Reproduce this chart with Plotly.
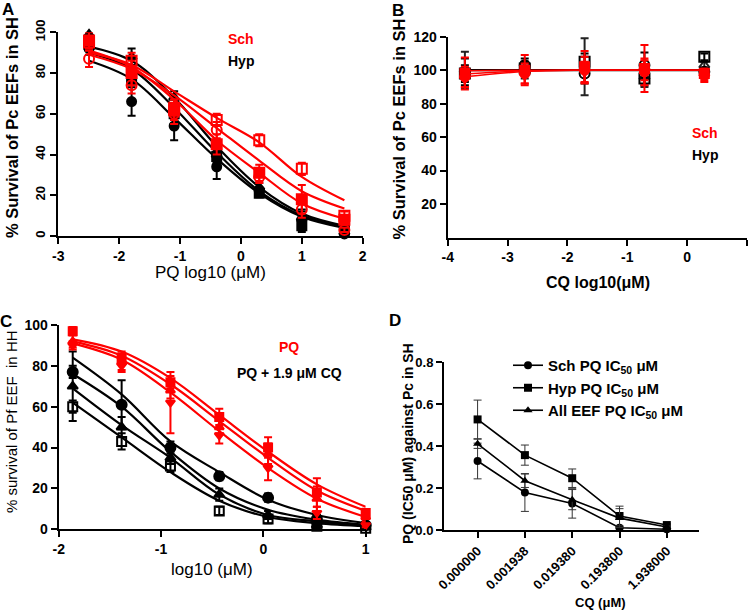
import plotly.graph_objects as go

# ---------------- DATA ----------------
# Panel A: PQ dose response, Pc EEFs in SH (x = log10 µM)
A_X = [-2.495, -1.796, -1.097, -0.398, 0.301, 1.0, 1.699]
A_X_TICKS = [-3, -2, -1, 0, 1, 2]
A_X_TICKTEXT = ["-3", "-2", "-1", "0", "1", "2"]
A_Y_TICKS = [0, 20, 40, 60, 80, 100]
# fitted curves
A_SCH_FIT_1 = [90, 84, 71, 58, 46, 29, 17.5]
A_SCH_FIT_2 = [89, 82, 69, 53, 37, 22, 13.5]
A_SCH_FIT_3 = [91, 83, 67, 47, 31, 16, 8.5]
A_HYP_FIT_1 = [93, 86, 68, 44, 24, 11, 5]
A_HYP_FIT_2 = [90, 82, 63, 41, 22, 10, 4.5]
A_HYP_FIT_3 = [86, 77, 58, 38, 21, 9.5, 4]
# replicate means and SD
A_SCH_OSQ = [95, 86, 63, 57, 47, 33, 10]
A_SCH_OSQ_ERR = [3, 4, 4, 3, 3, 3, 2]
A_SCH_SQ = [96, 80, 62, 45, 31, 18, 8]
A_SCH_SQ_ERR = [4, 6, 5, 5, 4, 7, 2]
A_SCH_OCI = [87, 74, 60, 52, 29, 13, 3]
A_SCH_OCI_ERR = [4, 4, 5, 4, 3, 4, 1]
A_HYP_TRI = [99, 88, 68, 40, 24, 9, 2]
A_HYP_TRI_ERR = [2, 4, 3, 4, 2, 4, 2]
A_HYP_CI = [92, 66, 54, 34, 22, 8, 1]
A_HYP_CI_ERR = [3, 7, 7, 6, 2, 4, 1]
A_HYP_SQ = [94, 77, 60, 39, 21, 5, 3]
A_HYP_SQ_ERR = [2, 3, 3, 3, 2, 3, 1]

# Panel B: CQ dose response, Pc EEFs in SH
B_X = [-3.713, -2.713, -1.713, -0.713, 0.287]
B_X_TICKS = [-4, -3, -2, -1, 0, 1]
B_X_TICKTEXT = ["-4", "-3", "-2", "-1", "0", "1"]
B_Y_TICKS = [20, 40, 60, 80, 100, 120]
B_SCH_FIT_1 = [99.7, 100, 100, 100, 100]
B_SCH_FIT_2 = [97.7, 99.6, 100, 100, 100]
B_SCH_FIT_3 = [96, 99.2, 100, 100, 100]
B_HYP_FIT = [100, 100, 100, 100, 100]
B_SCH_1 = [98, 100, 102, 101, 98]
B_SCH_1_ERR = [9.5, 9, 9.5, 14, 3]
B_SCH_2 = [96, 98, 100, 99, 97]
B_SCH_2_ERR = [6, 6, 8, 8, 3]
B_SCH_3 = [95, 97, 99, 100, 96]
B_SCH_3_ERR = [5, 5, 6, 6, 3]
B_HYP_CI = [99, 103, 98, 103, 99]
B_HYP_CI_ERR = [8, 4, 6, 7.5, 2]
B_HYP_SQ = [98, 101, 105, 95, 108]
B_HYP_SQ_ERR = [5, 4, 5, 4, 2]
B_HYP_TRI = [100, 100, 102, 96, 103]
B_HYP_TRI_ERR = [11, 5, 17, 6, 2]

# Panel C: PQ vs PQ + 1.9 µM CQ, Pf EEF in HH
C_X = [-1.863, -1.385, -0.908, -0.431, 0.046, 0.523, 1.0]
C_X_TICKS = [-2, -1, 0, 1]
C_X_TICKTEXT = ["-2", "-1", "0", "1"]
C_Y_TICKS = [0, 20, 40, 60, 80, 100]
C_PQ_FIT_1 = [93, 87, 74, 56, 38, 22, 11]
C_PQ_FIT_2 = [92, 85, 71, 53, 35, 19, 9]
C_PQ_FIT_3 = [91, 83, 67, 48, 30, 15, 6]
C_CQ_FIT_1 = [84, 66, 43, 28, 14.5, 7, 3]
C_CQ_FIT_2 = [76, 60, 38, 20, 9.6, 4.7, 2.2]
C_CQ_FIT_3 = [69, 51, 35, 17, 7, 3.9, 1.8]
C_CQ_FIT_4 = [62, 45, 28, 14, 6, 3, 1.5]
C_PQ_1 = [97, 84, 72, 55, 40, 18, 8]
C_PQ_1_ERR = [2, 3, 3, 4, 5, 7, 2]
C_PQ_2 = [92, 82, 68, 50, 37, 15, 6]
C_PQ_2_ERR = [3, 4, 4, 3, 5, 6, 2]
C_PQ_3 = [90, 80, 62, 46, 30, 8, 2]
C_PQ_3_ERR = [2, 3, 15, 4, 6, 3, 1]
C_CQ_CI = [77, 61, 40, 26, 15.5, 5, 2]
C_CQ_CI_ERR = [3, 12, 3, 2, 2, 2, 1]
C_CQ_TRI = [70, 50, 35, 17, 7, 2, 1]
C_CQ_TRI_ERR = [17, 5, 3, 3, 2, 1, 1]
C_CQ_SQ = [60, 43, 31, 9, 5, 1.5, 0.5]
C_CQ_SQ_ERR = [3, 4, 3, 2, 2, 1, 1]

# Panel D: PQ IC50 vs CQ concentration
D_CATS = ["0.000000", "0.001938", "0.019380", "0.193800", "1.938000"]
D_Y_TICKS = [0.0, 0.2, 0.4, 0.6, 0.8]
D_SCH = [0.33, 0.18, 0.128, 0.012, 0.005]
D_SCH_ERR = [0.085, 0.09, 0.07, 0.004, 0.002]
D_HYP = [0.528, 0.358, 0.248, 0.068, 0.025]
D_HYP_ERR = [0.092, 0.048, 0.044, 0.047, 0.005]
D_ALL = [0.412, 0.236, 0.146, 0.058, 0.016]
D_ALL_ERR = [0.022, 0.032, 0.048, 0.045, 0.004]

# ---------------- STYLE ----------------
W, H = 750, 610
RED = "#ff0000"
BLK = "#000000"
FONT = "Liberation Sans, Arial, sans-serif"


def px(x):
    return x / W


def py(y):
    return 1 - y / H


fig = go.Figure()


def fit(xa, ya, x, y, color):
    fig.add_trace(go.Scatter(x=x, y=y, xaxis=xa, yaxis=ya, mode="lines",
                             line=dict(color=color, width=2.2, shape="spline", smoothing=1.0),
                             showlegend=False, hoverinfo="skip"))


def pts(xa, ya, x, y, err, color, symbol, size=9):
    fig.add_trace(go.Scatter(x=x, y=y, xaxis=xa, yaxis=ya, mode="markers",
                             marker=dict(color=color, symbol=symbol, size=size,
                                         line=dict(color=color, width=2)),
                             error_y=dict(type="data", array=err, visible=True,
                                          color=color, thickness=2, width=4),
                             cliponaxis=False, showlegend=False))


# Panel A
for c in (A_HYP_FIT_1, A_HYP_FIT_2, A_HYP_FIT_3):
    fit("x", "y", A_X, c, BLK)
pts("x", "y", A_X, A_HYP_TRI, A_HYP_TRI_ERR, BLK, "triangle-up")
pts("x", "y", A_X, A_HYP_CI, A_HYP_CI_ERR, BLK, "circle")
pts("x", "y", A_X, A_HYP_SQ, A_HYP_SQ_ERR, BLK, "square")
for c in (A_SCH_FIT_1, A_SCH_FIT_2, A_SCH_FIT_3):
    fit("x", "y", A_X, c, RED)
pts("x", "y", A_X, A_SCH_OSQ, A_SCH_OSQ_ERR, RED, "square-open", 10)
pts("x", "y", A_X, A_SCH_SQ, A_SCH_SQ_ERR, RED, "square", 10)
pts("x", "y", A_X, A_SCH_OCI, A_SCH_OCI_ERR, RED, "circle-open", 10)

# Panel B
fit("x2", "y2", B_X, B_HYP_FIT, BLK)
pts("x2", "y2", B_X, B_HYP_TRI, B_HYP_TRI_ERR, "#222222", "triangle-up-open", 9)
pts("x2", "y2", B_X, B_HYP_CI, B_HYP_CI_ERR, BLK, "circle-open", 10)
pts("x2", "y2", B_X, B_HYP_SQ, B_HYP_SQ_ERR, BLK, "square-open", 10)
for c in (B_SCH_FIT_1, B_SCH_FIT_2, B_SCH_FIT_3):
    fig.add_trace(go.Scatter(x=B_X, y=c, xaxis="x2", yaxis="y2", mode="lines",
                             line=dict(color=RED, width=1.5, shape="spline"),
                             showlegend=False, hoverinfo="skip"))
pts("x2", "y2", B_X, B_SCH_1, B_SCH_1_ERR, RED, "square", 9)
pts("x2", "y2", B_X, B_SCH_2, B_SCH_2_ERR, RED, "circle", 9)
pts("x2", "y2", B_X, B_SCH_3, B_SCH_3_ERR, RED, "triangle-down", 9)

# Panel C
for c in (C_CQ_FIT_1, C_CQ_FIT_2, C_CQ_FIT_3, C_CQ_FIT_4):
    fit("x3", "y3", C_X, c, BLK)
pts("x3", "y3", C_X, C_CQ_CI, C_CQ_CI_ERR, BLK, "circle", 10)
pts("x3", "y3", C_X, C_CQ_TRI, C_CQ_TRI_ERR, BLK, "triangle-up", 9)
pts("x3", "y3", C_X, C_CQ_SQ, C_CQ_SQ_ERR, BLK, "square-open", 9)
for c in (C_PQ_FIT_1, C_PQ_FIT_2, C_PQ_FIT_3):
    fit("x3", "y3", C_X, c, RED)
pts("x3", "y3", C_X, C_PQ_1, C_PQ_1_ERR, RED, "square", 8)
pts("x3", "y3", C_X, C_PQ_2, C_PQ_2_ERR, RED, "triangle-up", 8)
pts("x3", "y3", C_X, C_PQ_3, C_PQ_3_ERR, RED, "triangle-down", 8)

# Panel D
for name, vals, err, sym in (("Sch", D_SCH, D_SCH_ERR, "circle"),
                             ("Hyp", D_HYP, D_HYP_ERR, "square"),
                             ("All EEF", D_ALL, D_ALL_ERR, "triangle-up")):
    fig.add_trace(go.Scatter(x=D_CATS, y=vals, xaxis="x4", yaxis="y4",
                             mode="lines+markers", name=f"{name} PQ IC<sub>50</sub> μM",
                             line=dict(color=BLK, width=1.6),
                             marker=dict(color=BLK, symbol=sym, size=8),
                             error_y=dict(type="data", array=err, visible=True,
                                          color="#333333", thickness=1, width=4),
                             cliponaxis=False))

# ---------------- LAYOUT ----------------
def axis(domain, rng, tickvals=None, ticktext=None, size=13, angle=None, anchor=None, fmt=None):
    d = dict(domain=domain, range=rng, showline=True, linecolor=BLK, linewidth=2,
             ticks="outside", ticklen=6, tickwidth=2, tickcolor=BLK,
             showgrid=False, zeroline=False, automargin=False, anchor=anchor,
             tickfont=dict(family=FONT, size=size, color=BLK, weight="bold"))
    if tickvals is not None:
        d["tickmode"] = "array"
        d["tickvals"] = tickvals
        if ticktext is not None:
            d["ticktext"] = ticktext
    if angle is not None:
        d["tickangle"] = angle
    if fmt:
        d["tickformat"] = fmt
    return d


layout = dict(
    width=W, height=H, margin=dict(l=0, r=0, t=0, b=0),
    paper_bgcolor="white", plot_bgcolor="white",
    font=dict(family=FONT, color=BLK),
    xaxis=axis([px(58.3), px(362.7)], [-3, 2], A_X_TICKS, A_X_TICKTEXT, 14, anchor="y"),
    yaxis=axis([py(236), py(32.3)], [0, 100], A_Y_TICKS, None, 13, angle=-90, anchor="x"),
    xaxis2=axis([px(447.7), px(747)], [-4, 1], B_X_TICKS, B_X_TICKTEXT, 14, anchor="y2"),
    yaxis2=axis([py(237.5), py(36.7)], [0, 120], B_Y_TICKS, None, 14, anchor="x2"),
    xaxis3=axis([px(58.7), px(365.7)], [-2, 1], C_X_TICKS, C_X_TICKTEXT, 14, anchor="y3"),
    yaxis3=axis([py(529.3), py(325)], [0, 100], C_Y_TICKS, None, 14, anchor="x3"),
    xaxis4=axis([px(444), px(699)], [-0.71, 4.68], None, None, 13, angle=-45, anchor="y4"),
    yaxis4=axis([py(530.3), py(362.3)], [0, 0.8], D_Y_TICKS, None, 13, anchor="x4", fmt=".1f"),
    showlegend=True,
    legend=dict(x=px(508), y=py(349), xanchor="left", yanchor="top",
                bgcolor="rgba(0,0,0,0)", itemwidth=30, tracegroupgap=0,
                font=dict(family=FONT, size=15, color=BLK, weight="bold")),
)
layout["xaxis4"]["type"] = "category"
fig.update_layout(**layout)


def ann(x, y, text, size, color=BLK, bold=True, angle=0):
    fig.add_annotation(x=px(x), y=py(y), xref="paper", yref="paper", text=text,
                       showarrow=False, textangle=angle, xanchor="center", yanchor="middle",
                       font=dict(family=FONT, size=size, color=color,
                                 weight="bold" if bold else "normal"))


# panel letters
ann(8, 9, "A", 17)
ann(398, 10, "B", 17)
ann(6, 321, "C", 17)
ann(395, 320, "D", 17)
# axis titles
ann(12, 128, "% Survival of Pc EEFs in SH", 16.5, angle=-90)
ann(210, 272, "PQ log10 (μM)", 17, bold=False)
ann(398.5, 129, "% Survival of Pc EEFs in SH", 16.5, angle=-90)
ann(598, 282, "CQ log10(μM)", 16, )
ann(12, 422, "% survival of Pf EEF  in HH", 15, bold=False, angle=-90)
ann(212, 569, "log10 (μM)", 17, bold=False)
ann(408, 444, "PQ (IC50 μM) against Pc in SH", 14, angle=-90)
ann(600, 602, "CQ (μM)", 13)
# in-plot legends
ann(241, 39, "Sch", 14, RED)
ann(241, 61, "Hyp", 14)
ann(705, 133, "Sch", 14, RED)
ann(705, 155, "Hyp", 14)
ann(289, 347, "PQ", 14, RED)
ann(289, 372.5, "PQ + 1.9 μM CQ", 14)

fig.write_html("out.html", config={"displayModeBar": False},
               post_script="document.body.style.margin='0px';document.body.style.padding='0px';")
